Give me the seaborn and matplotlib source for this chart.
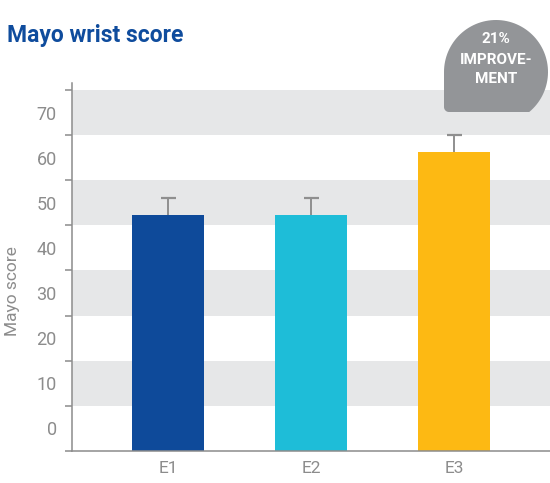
import numpy as np
import pandas as pd
import matplotlib
matplotlib.use("Agg")
import matplotlib.pyplot as plt
from matplotlib.patches import Polygon
import seaborn as sns

# data
groups = ["E1", "E2", "E3"]
scores = [47.3, 47.3, 61.3]
errors = [3.8, 3.8, 3.7]
tick_values = [0, 10, 20, 30, 40, 50, 60, 70]
bar_colors = ["#0e4a9a", "#1ebdd8", "#fdb913"]
badge_lines = ["21%", "IMPROVE-", "MENT"]

df = pd.DataFrame({"group": groups, "score": scores, "err": errors})

sns.set_theme(style="white")
plt.rcParams["font.family"] = ["Roboto", "DejaVu Sans"]

grey_txt = "#8c8c8c"
axis_col = "#8c8c8c"

W, H = 550, 483
fig = plt.figure(figsize=(5.5, 4.83), dpi=100)
ax = fig.add_axes([72 / W, 1 - 451 / H, 1 - 72 / W, (451 - 83) / H])

# axis starts half a band below the "0" label
base = -5

sns.barplot(data=df, x="group", y="score", hue="group", palette=bar_colors,
            width=0.5, errorbar=None, legend=False, saturation=1,
            linewidth=0, ax=ax, zorder=2)
# bars run down to the axis floor
for p in ax.patches:
    p.set_y(base)
    p.set_height(p.get_height() - base)

# grey bands around every other label
for v in tick_values[1::2]:
    ax.axhspan(v - 5, v + 5, color="#e6e7e8", lw=0, zorder=0)

# upper error only
eb = ax.errorbar(range(len(groups)), scores,
                 yerr=[np.zeros(len(errors)), errors],
                 fmt="none", ecolor="#8f8f8f", elinewidth=1.4, capsize=5.4,
                 capthick=1.6, zorder=3)
eb.lines[1][0].set_visible(False)

ax.set_ylim(base, 76.55)
ax.set_xlim(-0.67, 2.67)

ax.set_yticks(tick_values)
ax.set_yticklabels([str(v) for v in tick_values])
ax.set_yticks(np.arange(base, 80, 10), minor=True)
ax.tick_params(axis="y", which="major", length=0, pad=11, labelsize=13,
               labelcolor=grey_txt)
ax.tick_params(axis="y", which="minor", left=True, length=5, width=1.1,
               color=axis_col, direction="out")
ax.tick_params(axis="x", length=0, pad=7, labelsize=12.5, labelcolor=grey_txt)

ax.set_xlabel("")
ax.set_ylabel("")
for s in ["top", "right"]:
    ax.spines[s].set_visible(False)
for s in ["left", "bottom"]:
    ax.spines[s].set_color(axis_col)
    ax.spines[s].set_linewidth(1.1)

fig.text(13 / W, 1 - 291 / H, "Mayo score", rotation=90, ha="center",
         va="center", fontsize=12.5, color=grey_txt)
fig.text(7 / W, 1 - 42 / H, "Mayo wrist score", fontsize=16.5,
         fontweight="bold", color="#0f4c9d", va="baseline")

# badge overlay in pixel coordinates
bax = fig.add_axes([0, 0, 1, 1], zorder=5)
bax.set_xlim(0, W)
bax.set_ylim(H, 0)
bax.axis("off")
bax.patch.set_alpha(0)

cx, cy, r = 496, 72, 52
bottom, left, c = 112, 444, 5
t = np.linspace(np.pi, -np.arcsin((bottom - cy) / r), 80)
arc = np.column_stack([cx + r * np.cos(t), cy - r * np.sin(t)])
a = np.linspace(-np.pi / 2, -np.pi, 12)
corner = np.column_stack([left + c + c * np.cos(a), bottom - c - c * np.sin(a)])
bax.add_patch(Polygon(np.vstack([arc, corner]), closed=True,
                      fc="#939598", ec="none"))
for line, y in zip(badge_lines, [43, 64, 83]):
    bax.text(cx, y, line, ha="center", va="baseline", color="white",
             fontsize=11, fontweight="bold")

fig.savefig("out.png", dpi=100)
